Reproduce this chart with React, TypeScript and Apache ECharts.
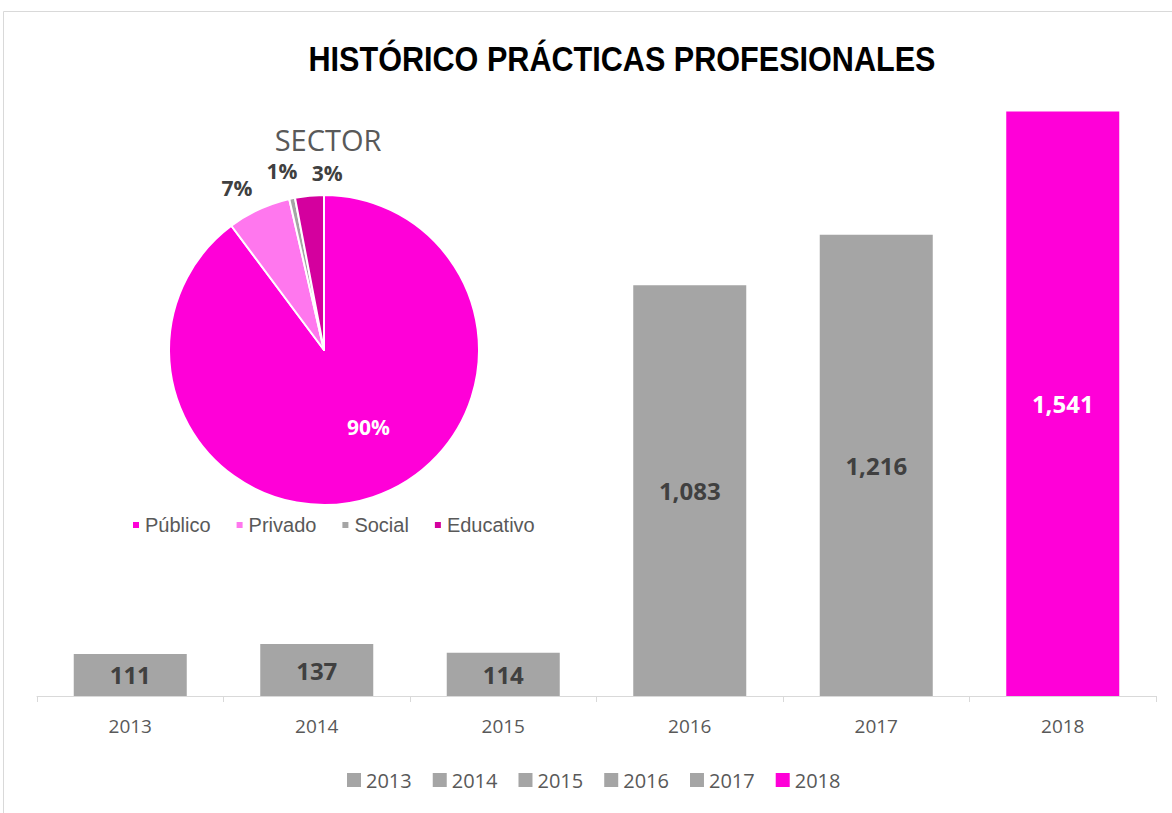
import React, { useEffect, useRef } from "react";
import * as echarts from "echarts";

const years = ["2013", "2014", "2015", "2016", "2017", "2018"];
const practicas = [111, 137, 114, 1083, 1216, 1541];
const barColors = ["#A5A5A5", "#A5A5A5", "#A5A5A5", "#A5A5A5", "#A5A5A5", "#FF00D8"];
const barLabelColors = ["#404040", "#404040", "#404040", "#404040", "#404040", "#FFFFFF"];

const sectores = ["Público", "Privado", "Social", "Educativo"];
const sectorShare = [89.8, 6.6, 0.6, 3.0];
const sectorColors = ["#FF00D8", "#FF77EE", "#A5A5A5", "#D4009E"];
// label nudges (style only)
const pieLabelShift = [
  [19, 1],
  [43, -46],
  [59, -40],
  [39, -15],
];

export default function App() {
  const ref = useRef<HTMLDivElement>(null);
  useEffect(() => {
    if (!ref.current) return;
    const chart = echarts.init(ref.current, undefined, { renderer: "svg" });

    const barSeries = years.map((y, i) => ({
      name: y,
      type: "bar",
      stack: "total",
      barWidth: 113,
      itemStyle: { color: barColors[i] },
      label: {
        show: true,
        position: "inside",
        formatter: (p: any) => Number(p.value).toLocaleString("en-US"),
        color: barLabelColors[i],
        fontFamily: "'Open Sans', sans-serif",
        fontWeight: "bold",
        fontSize: 24,
      },
      data: years.map((_, j) => (j === i ? practicas[i] : "-")),
    }));

    chart.setOption({
      animation: false,
      backgroundColor: "#FFFFFF",
      title: [
        {
          text: "SECTOR",
          left: 328,
          top: 125,
          textAlign: "center",
          padding: 0,
          textStyle: {
            fontFamily: "'Open Sans', sans-serif",
            fontSize: 29,
            lineHeight: 29,
            fontWeight: "normal",
            color: "#595959",
          },
        },
      ],
      graphic: [
        {
          type: "rect",
          shape: { x: 3.5, y: 11.5, width: 1180, height: 820 },
          style: { fill: "none", stroke: "#D9D9D9", lineWidth: 1 },
          z: -10,
        },
        {
          type: "text",
          x: 622,
          y: 59,
          scaleX: 0.85,
          style: {
            text: "HISTÓRICO PRÁCTICAS PROFESIONALES",
            font: "bold 36px 'Liberation Sans', Arial, sans-serif",
            fill: "#000000",
            align: "center",
            verticalAlign: "middle",
          },
        },
      ],
      legend: [
        {
          data: years,
          bottom: 18,
          left: 342,
          itemWidth: 14,
          itemHeight: 14,
          itemGap: 21,
          icon: "rect",
          textStyle: {
            fontFamily: "'Open Sans', sans-serif",
            fontSize: 20,
            color: "#595959",
          },
        },
        {
          data: sectores,
          left: 126,
          top: 510,
          itemWidth: 8,
          itemHeight: 8,
          itemGap: 24,
          icon: "rect",
          textStyle: {
            fontFamily: "'Liberation Sans', Arial, sans-serif",
            fontSize: 20,
            color: "#595959",
          },
        },
      ],
      grid: { left: 37, right: 16, top: 89, bottom: 117 },
      xAxis: {
        type: "category",
        data: years,
        axisLine: { lineStyle: { color: "#D9D9D9", width: 1 } },
        axisTick: { show: true, length: 6, lineStyle: { color: "#D9D9D9" } },
        axisLabel: {
          margin: 20,
          fontFamily: "'Open Sans', sans-serif",
          fontSize: 19,
          color: "#595959",
        },
      },
      yAxis: {
        type: "value",
        min: 0,
        max: 1600,
        show: false,
        splitLine: { show: false },
      },
      series: [
        ...barSeries,
        {
          name: "Sector",
          type: "pie",
          center: [324, 350],
          radius: [0, 155],
          startAngle: 90,
          clockwise: true,
          z: 5,
          itemStyle: { borderColor: "#FFFFFF", borderWidth: 2 },
          labelLine: { show: false, length: 8, length2: 0 },
          labelLayout: (p: any) => {
            const s = pieLabelShift[p.dataIndex];
            return s ? { dx: s[0], dy: s[1] } : {};
          },
          label: {
            show: true,
            position: "outside",
            formatter: (p: any) => Math.round(p.value) + "%",
            fontFamily: "'Open Sans', sans-serif",
            fontWeight: "bold",
            fontSize: 21,
            lineHeight: 20,
            color: "#404040",
          },
          data: sectores.map((s, i) => ({
            name: s,
            value: sectorShare[i],
            itemStyle: { color: sectorColors[i] },
            label:
              i === 0
                ? { position: "inside", color: "#FFFFFF" }
                : undefined,
          })),
        },
      ],
    });
    return () => chart.dispose();
  }, []);
  return (
    <div
      ref={ref}
      style={{ position: "fixed", left: 0, top: 0, width: 1172, height: 813 }}
    />
  );
}
